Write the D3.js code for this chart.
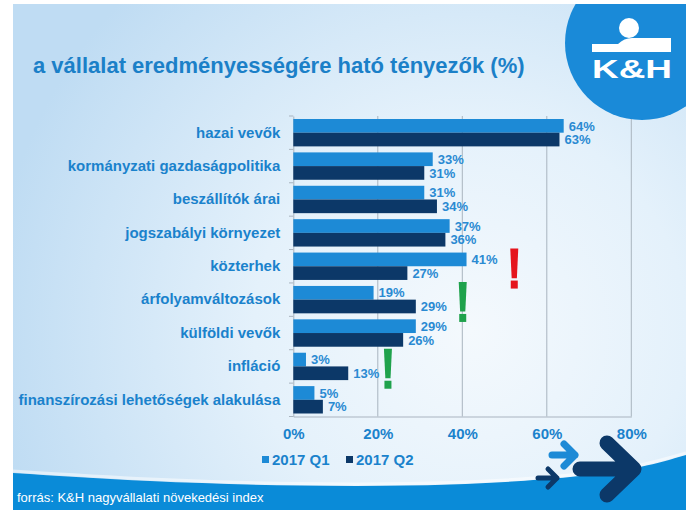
<!DOCTYPE html>
<html>
<head>
<meta charset="utf-8">
<script src="https://cdn.jsdelivr.net/npm/d3@7"></script>
<style>
  html, body { margin: 0; padding: 0; background: #ffffff; }
  svg { display: block; }
  text { font-family: "Liberation Sans", Arial, sans-serif; }
</style>
</head>
<body>
<svg id="chart" width="700" height="525"></svg>
<script>
// ---- data ----
const categories = [
  "hazai vevők",
  "kormányzati gazdaságpolitika",
  "beszállítók árai",
  "jogszabályi környezet",
  "közterhek",
  "árfolyamváltozások",
  "külföldi vevők",
  "infláció",
  "finanszírozási lehetőségek alakulása"
];
const seriesNames = ["2017 Q1", "2017 Q2"];
const q1Values = [64, 33, 31, 37, 41, 19, 29, 3, 5];
const q2Values = [63, 31, 34, 36, 27, 29, 26, 13, 7];
const xTicks = [0, 20, 40, 60, 80];
const titleText = "a vállalat eredményességére ható tényezők (%)";
const sourceText = "forrás: K&H nagyvállalati növekedési index";
// exclamation marks: [category index, value position (%), colour]
const marks = [
  { cat: "közterhek", at: 52.3, color: "#e5151d" },
  { cat: "árfolyamváltozások", at: 40.1, color: "#1fa24c" },
  { cat: "infláció", at: 22.4, color: "#1fa24c" }
];

// ---- layout ----
const svg = d3.select("#chart");
const C1 = "#1d8ad6", C2 = "#0c3868", TXT = "#1a82cc";
const box = { x: 13, y: 4, w: 673, h: 506 };

const defs = svg.append("defs");
const bg = defs.append("radialGradient").attr("id", "bg")
  .attr("gradientUnits", "userSpaceOnUse")
  .attr("cx", 470).attr("cy", 330).attr("r", 480);
bg.append("stop").attr("offset", "0").attr("stop-color", "#f4f9fd");
bg.append("stop").attr("offset", "0.45").attr("stop-color", "#e4f1fb");
bg.append("stop").attr("offset", "1").attr("stop-color", "#bfdcf3");
defs.append("clipPath").attr("id", "boxclip").append("rect")
  .attr("x", box.x).attr("y", box.y).attr("width", box.w).attr("height", box.h);

const root = svg.append("g").attr("clip-path", "url(#boxclip)");
root.append("rect").attr("x", box.x).attr("y", box.y)
  .attr("width", box.w).attr("height", box.h).attr("fill", "url(#bg)");

// scales
const x = d3.scaleLinear().domain([0, 80]).range([293.3, 631.3]);
const y = d3.scaleBand().domain(categories).range([116, 416.5])
  .paddingInner(0.18).paddingOuter(0.09);
const ySub = d3.scaleBand().domain(seriesNames).range([0, y.bandwidth()]);

// gridlines
const plot = root.append("g");
plot.append("g").selectAll("line").data(xTicks.filter(d => d > 0)).join("line")
  .attr("x1", d => x(d)).attr("x2", d => x(d))
  .attr("y1", 116).attr("y2", 416.5)
  .attr("stroke", "#a9b4bf").attr("stroke-width", 1);

// bottom axis
const xAxis = plot.append("g").attr("transform", "translate(0,416.5)")
  .call(d3.axisBottom(x).tickValues(xTicks).tickFormat(d => d + "%").tickSize(0).tickPadding(12));
xAxis.select(".domain").attr("stroke", "#a9b4bf").attr("stroke-width", 1.2);
xAxis.selectAll("text").attr("fill", TXT).attr("font-size", 15).attr("font-weight", "bold")
  .attr("font-family", "Liberation Sans, Arial, sans-serif");

// left axis
const yAxis = plot.append("g").attr("transform", "translate(293.3,0)")
  .call(d3.axisLeft(y).tickSize(0).tickPadding(13));
yAxis.select(".domain").attr("stroke", "#a9b4bf").attr("stroke-width", 1);
yAxis.selectAll("text").attr("fill", TXT).attr("font-size", 15).attr("font-weight", "bold")
  .attr("font-family", "Liberation Sans, Arial, sans-serif");
// boundary ticks between categories
const stepHalf = y.step() * y.paddingInner() / 2;
const bounds = categories.map(c => y(c) - stepHalf).concat([416.5]);
plot.append("g").selectAll("line").data(bounds).join("line")
  .attr("x1", 289).attr("x2", 293.3).attr("y1", d => d).attr("y2", d => d)
  .attr("stroke", "#a9b4bf");

// bars
const rows = categories.map((c, i) => ({ c, v: [q1Values[i], q2Values[i]] }));
const groups = plot.append("g").selectAll("g").data(rows).join("g")
  .attr("transform", d => `translate(0,${y(d.c)})`);
groups.selectAll("rect").data(d => d.v.map((v, k) => ({ v, k }))).join("rect")
  .attr("x", x(0))
  .attr("y", d => ySub(seriesNames[d.k]))
  .attr("width", d => x(d.v) - x(0))
  .attr("height", ySub.bandwidth())
  .attr("fill", d => d.k === 0 ? C1 : C2);
groups.selectAll("text").data(d => d.v.map((v, k) => ({ v, k }))).join("text")
  .attr("x", d => x(d.v) + 5)
  .attr("y", d => ySub(seriesNames[d.k]) + ySub.bandwidth() / 2)
  .attr("dy", "0.36em")
  .attr("fill", "#2a8ad2").attr("font-size", 13).attr("font-weight", "bold")
  .text(d => d.v + "%");

// exclamation marks
marks.forEach(m => {
  const cx = x(m.at);
  const top = y(m.cat) - 4;
  const h = 40;
  const g = root.append("g").attr("fill", m.color);
  g.append("path").attr("d",
    `M${cx - 4},${top} L${cx + 4},${top} L${cx + 2.6},${top + h * 0.74} L${cx - 2.6},${top + h * 0.74} Z`);
  g.append("rect").attr("x", cx - 3.5).attr("y", top + h * 0.8).attr("width", 7).attr("height", h * 0.2);
});

// legend
const legend = root.append("g").attr("transform", "translate(262,460)");
seriesNames.forEach((s, i) => {
  const gx = i * 84;
  legend.append("rect").attr("x", gx).attr("y", -4).attr("width", 7).attr("height", 7)
    .attr("fill", i === 0 ? C1 : C2);
  legend.append("text").attr("x", gx + 10).attr("y", 0).attr("dy", "0.36em")
    .attr("fill", TXT).attr("font-size", 15).attr("font-weight", "bold").text(s);
});

// bottom band
const bandPts = [[13, 473], [150, 481], [300, 485.5], [450, 484.5], [570, 477], [640, 467], [686, 455]];
const curve = d3.line().curve(d3.curveNatural);
root.append("path")
  .attr("d", curve(bandPts) + ` L686,515 L13,515 Z`)
  .attr("fill", "#0a8bd8");
root.append("path").attr("d", curve(bandPts.map(p => [p[0], p[1] - 2])))
  .attr("fill", "none").attr("stroke", "#ffffff").attr("stroke-opacity", 0.5).attr("stroke-width", 3);

root.append("text").attr("x", 17).attr("y", 502)
  .attr("fill", "#ffffff").attr("font-size", 13).text(sourceText);

// arrows
function arrow(x1, x2, yy, hx, hy, w, col) {
  root.append("path")
    .attr("d", `M${x1},${yy} L${x2},${yy} M${x2 - hx},${yy - hy} L${x2},${yy} L${x2 - hx},${yy + hy}`)
    .attr("fill", "none").attr("stroke", col).attr("stroke-width", w)
    .attr("stroke-linecap", "round").attr("stroke-linejoin", "round");
}
arrow(552, 575, 455, 11, 11, 7, C1);
arrow(538, 557, 478, 9, 9, 5, C2);
arrow(580, 634, 469, 27, 26, 15, C2);

// title
root.append("text").attr("x", 33).attr("y", 73)
  .attr("fill", "#1b80c8").attr("font-size", 22).attr("font-weight", "bold").text(titleText);

// logo
const logo = root.append("g");
logo.append("circle").attr("cx", 642).attr("cy", 43).attr("r", 77).attr("fill", "#1a8ad8");
logo.append("circle").attr("cx", 629).attr("cy", 28).attr("r", 10).attr("fill", "#ffffff");
logo.append("path").attr("d",
  "M592,44 L618,44 Q624,38 632,38 L671,38 L671,52 L592,52 Z").attr("fill", "#ffffff");
logo.append("text").attr("x", 592).attr("y", 78).attr("fill", "#ffffff")
  .attr("font-size", 25).attr("font-weight", "bold").attr("textLength", 80)
  .attr("lengthAdjust", "spacingAndGlyphs").text("K&H");
</script>
</body>
</html>
